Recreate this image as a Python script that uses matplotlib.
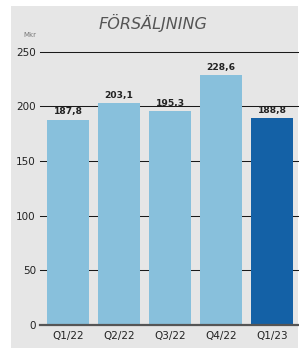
import matplotlib
matplotlib.use("Agg")
import matplotlib.pyplot as plt
from matplotlib.patches import Rectangle

categories = ["Q1/22", "Q2/22", "Q3/22", "Q4/22", "Q1/23"]
values = [187.8, 203.1, 195.3, 228.6, 188.8]
labels = ["187,8", "203,1", "195,3", "228,6", "188,8"]
yticks = [0, 50, 100, 150, 200, 250]

W, H = 299, 350
fig = plt.figure(figsize=(W / 100, H / 100), dpi=100)
fig.patch.set_facecolor("white")
fig.add_artist(Rectangle((11 / W, 2 / H), (298 - 11) / W, (348 - 6) / H,
                         transform=fig.transFigure, facecolor="#E6E6E6",
                         edgecolor="none", zorder=0))

y0, y250 = 325, 51.5
ax = fig.add_axes([40 / W, (H - y0) / H, (298 - 40) / W, (y0 - y250) / H])
ax.set_facecolor("none")
ax.set_xlim(-0.55, 4.51)
ax.set_ylim(0, 250)

for t in yticks[1:]:
    ax.axhline(t, color="#1a1a1a", lw=0.75, zorder=1, clip_on=False)
ax.axhline(0, color="#555555", lw=1.6, zorder=3, clip_on=False)

colors = ["#88C0DC"] * 4 + ["#1461A6"]
x = list(range(len(categories)))
ax.bar(x, values, width=0.82, color=colors, zorder=2)
for xi, v, lab in zip(x, values, labels):
    ax.text(xi, v + 3, lab, ha="center", va="bottom", fontsize=6.6,
            fontweight="bold", color="#222222")

for s in ax.spines.values():
    s.set_visible(False)
ax.set_xticks(x)
ax.set_xticklabels(categories, fontsize=7.5, color="#222222")
ax.set_yticks(yticks)
ax.set_yticklabels([str(t) for t in yticks], fontsize=7.5, color="#222222")
ax.tick_params(axis="x", length=0, pad=4.5)
ax.tick_params(axis="y", length=0, pad=3)

fig.text(153 / W, 1 - 23 / H, "FÖRSÄLJNING", ha="center", va="center",
         fontsize=11.5, style="italic", color="#555555")
fig.text(30 / W, 1 - 35 / H, "Mkr", ha="center", va="center",
         fontsize=5, color="#777777")

fig.savefig("out.png", dpi=100)
